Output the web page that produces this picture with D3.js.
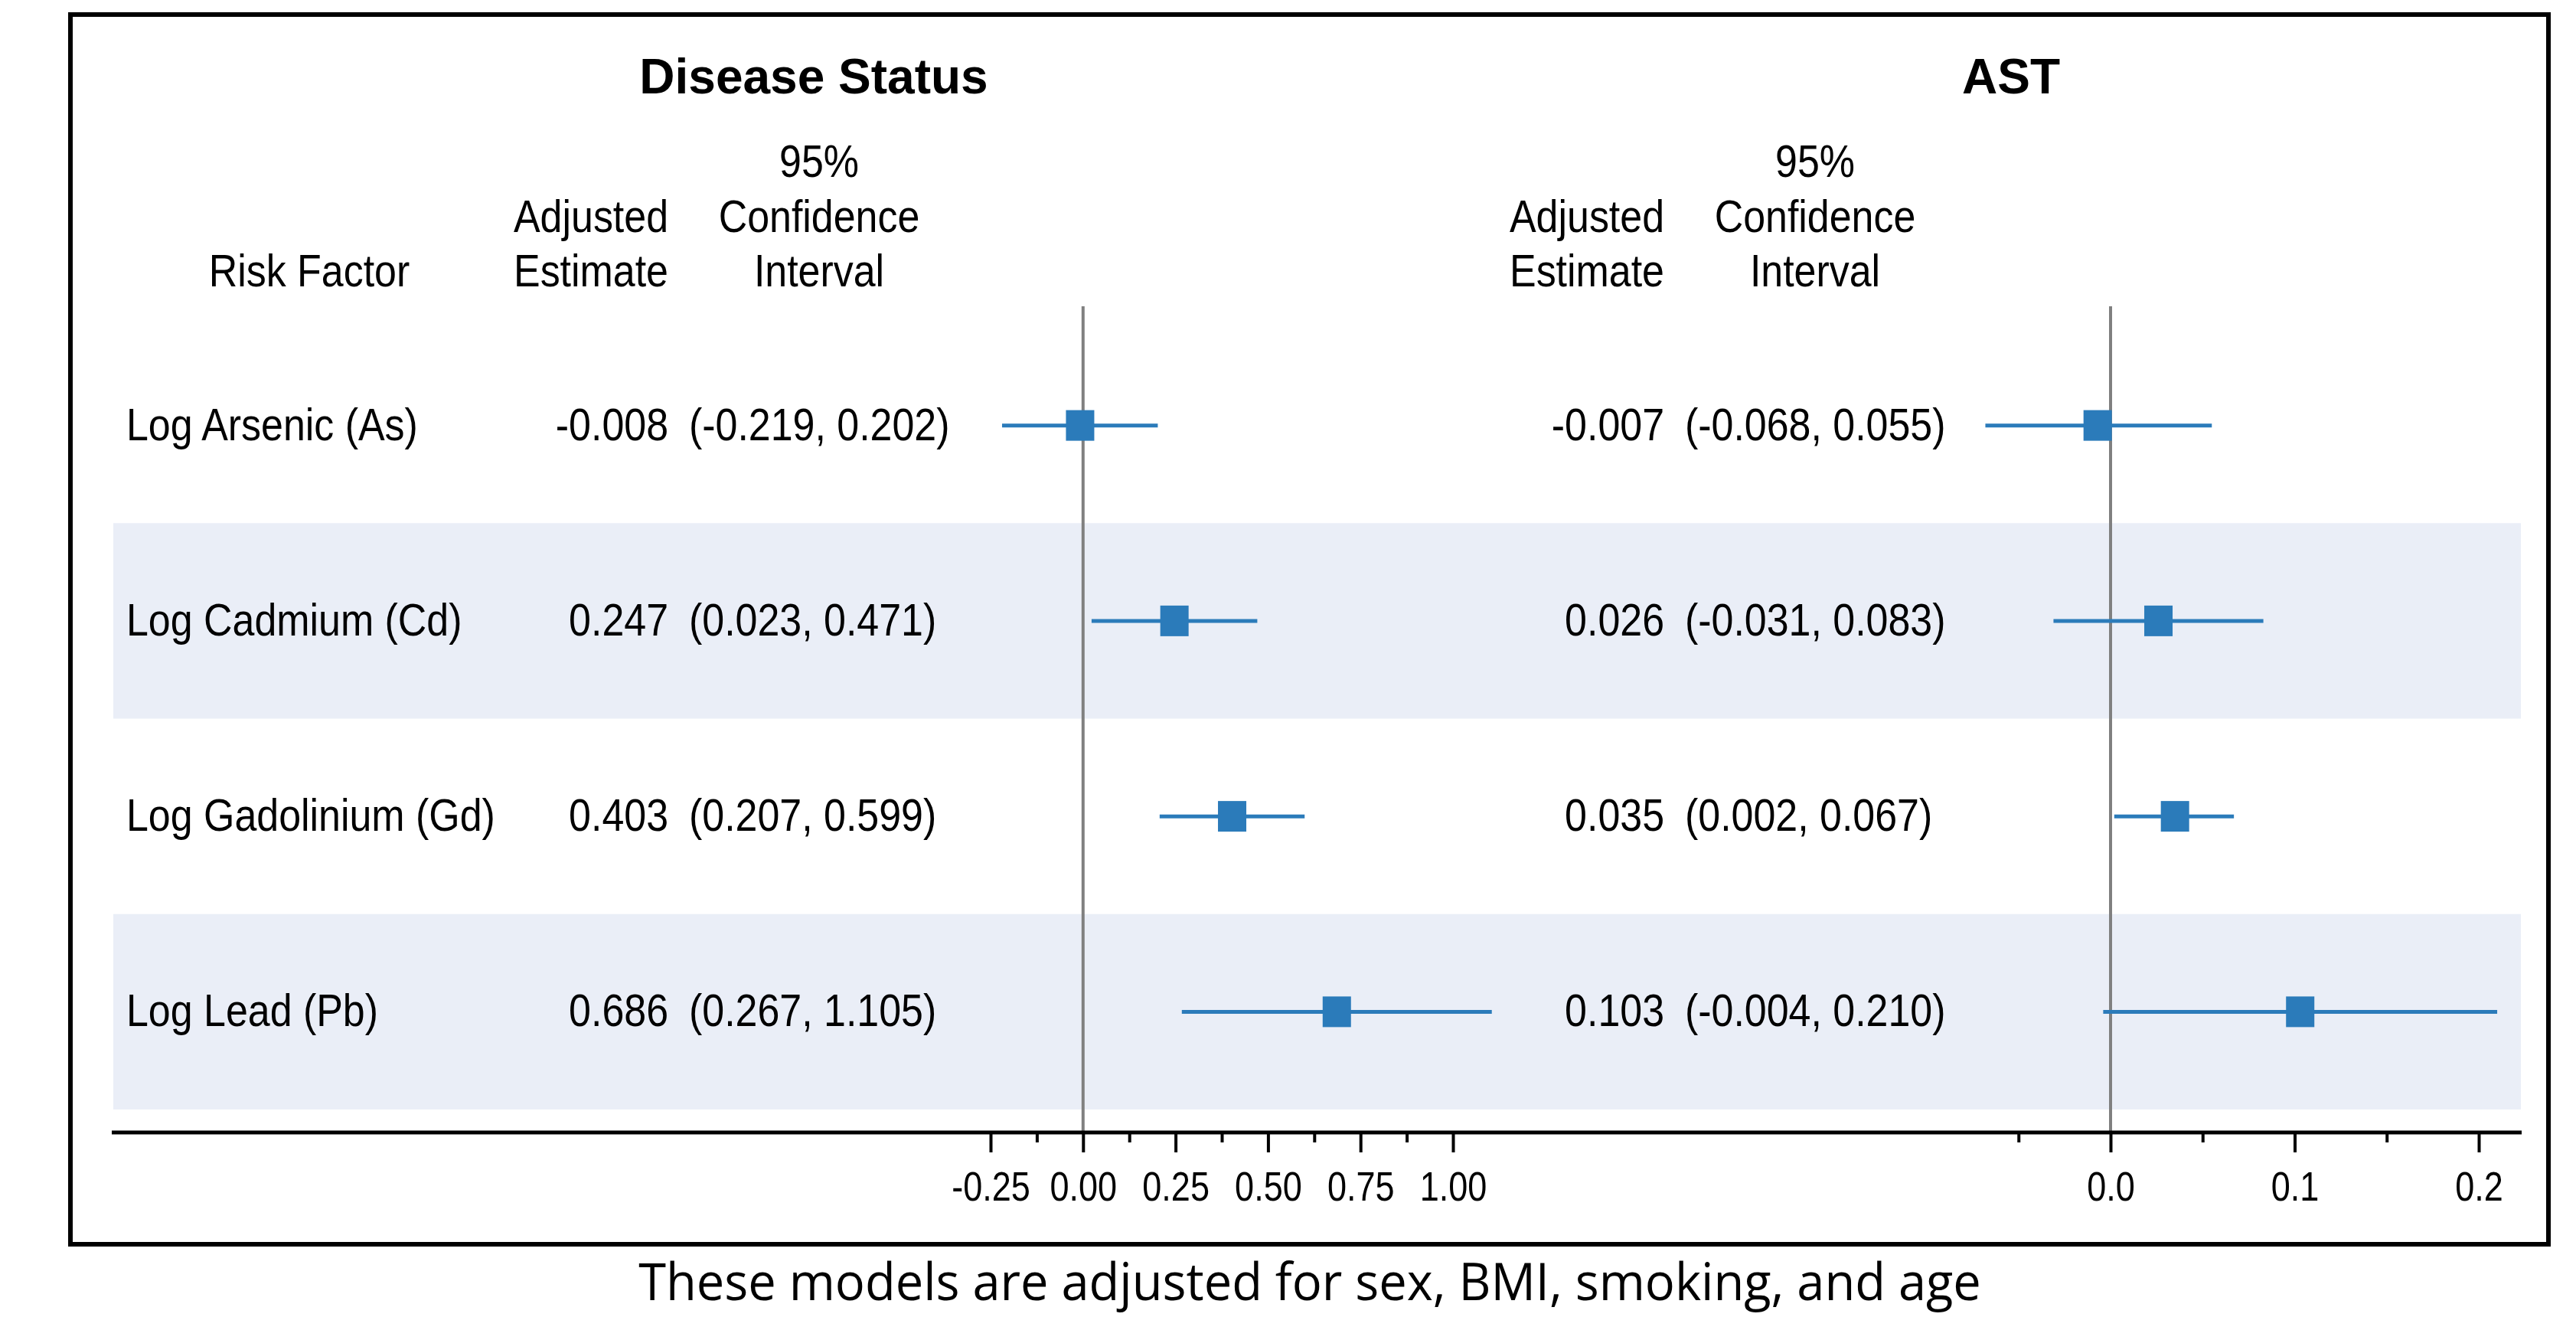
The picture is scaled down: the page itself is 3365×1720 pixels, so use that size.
<!DOCTYPE html>
<html>
<head>
<meta charset="utf-8">
<script src="https://cdn.jsdelivr.net/npm/d3@7"></script>
<style>
  body { margin: 0; background: #fff; }
  text { font-family: "Liberation Sans", Arial, sans-serif; fill: #000; }
</style>
</head>
<body>
<svg id="chart" width="3365" height="1720"></svg>
<script>
//data
var factors = ['Log Arsenic (As)', 'Log Cadmium (Cd)', 'Log Gadolinium (Gd)', 'Log Lead (Pb)'];

var dsEst = [-0.008, 0.247, 0.403, 0.686],
    dsLo = [-0.219, 0.023, 0.207, 0.267],
    dsHi = [0.202, 0.471, 0.599, 1.105];

var astEst = [-0.007, 0.026, 0.035, 0.103],
    astLo = [-0.068, -0.031, 0.002, -0.004],
    astHi = [0.055, 0.083, 0.067, 0.210];

var dsTicks = [-0.25, 0, 0.25, 0.5, 0.75, 1.0],
    dsMinor = [-0.125, 0.125, 0.375, 0.625, 0.875],
    astTicks = [0, 0.1, 0.2],
    astMinor = [-0.05, 0.05, 0.15];

var panelTitles = ['Disease Status', 'AST'];
var headerLines = [['', '95%'], ['Adjusted', 'Confidence'], ['Estimate', 'Interval']];
var caption = 'These models are adjusted for sex, BMI, smoking, and age';

//sizes / style
var blue = '#2b7bba',
    bandFill = '#eaeef7',
    refGray = '#808080',
    axisY = 1479,
    textSize = 59, textSx = 0.88,
    tickSize = 53, tickSx = 0.85;

var svg = d3.select('#chart');

//scales
var y = d3.scaleBand()
    .domain(factors)
    .range([428, 1449]);

var dsX = d3.scaleLinear().domain([-0.25, 1]).range([1294, 1898]);
var astX = d3.scaleLinear().domain([0, 0.2]).range([2757, 3238]);

//text helper, the original type is a bit condensed
function addText(g, x, yy, s, anchor, size, sx, weight) {
    return g.append('text')
        .attr('transform', 'translate(' + x + ',' + yy + ') scale(' + sx + ',1)')
        .attr('text-anchor', anchor)
        .style('font-size', size + 'px')
        .style('font-weight', weight || 'normal')
        .text(s);
}

//row bands
svg.append('g').selectAll('rect')
    .data(factors.filter(function(d, i) { return i % 2 == 1; }))
    .enter().append('rect')
    .attr('x', 148)
    .attr('width', 3293 - 148)
    .attr('y', function(d) { return y(d); })
    .attr('height', y.bandwidth())
    .attr('fill', bandFill);

//frame
svg.append('rect')
    .attr('x', 92).attr('y', 19)
    .attr('width', 3237).attr('height', 1606)
    .attr('fill', 'none')
    .attr('stroke', '#000')
    .attr('stroke-width', 6);

//panels
var panels = [
    { x: dsX, est: dsEst, lo: dsLo, hi: dsHi, ticks: dsTicks, minor: dsMinor, fmt: 2, off: 0, title: panelTitles[0], tx: 1063 },
    { x: astX, est: astEst, lo: astLo, hi: astHi, ticks: astTicks, minor: astMinor, fmt: 1, off: 1301, title: panelTitles[1], tx: 2627 }
];

var textG = svg.append('g');

addText(textG, 404, 374, 'Risk Factor', 'middle', textSize, textSx);

factors.forEach(function(f) {
    addText(textG, 165, y(f) + y.bandwidth() / 2 + 19, f, 'start', textSize, textSx);
});

panels.forEach(function(p) {
    var g = svg.append('g');

    addText(g, p.tx, 122, p.title, 'middle', 64, 1, 'bold');

    var hy = [231, 303, 374];
    headerLines.forEach(function(h, k) {
        if (h[0]) addText(g, 772 + p.off, hy[k], h[0], 'middle', textSize, textSx);
        addText(g, 1070 + p.off, hy[k], h[1], 'middle', textSize, textSx);
    });

    factors.forEach(function(f, i) {
        var cy = y(f) + y.bandwidth() / 2;
        addText(g, 873 + p.off, cy + 19, p.est[i].toFixed(3), 'end', textSize, textSx);
        addText(g, 900 + p.off, cy + 19, '(' + p.lo[i].toFixed(3) + ', ' + p.hi[i].toFixed(3) + ')', 'start', textSize, textSx);
    });

    //reference line at zero
    g.append('line')
        .attr('x1', p.x(0)).attr('x2', p.x(0))
        .attr('y1', 400).attr('y2', axisY)
        .attr('stroke', refGray)
        .attr('stroke-width', 4);

    //confidence intervals
    g.selectAll('.ci')
        .data(factors)
        .enter().append('line')
        .attr('class', 'ci')
        .attr('x1', function(d, i) { return p.x(p.lo[i]); })
        .attr('x2', function(d, i) { return p.x(p.hi[i]); })
        .attr('y1', function(d) { return y(d) + y.bandwidth() / 2; })
        .attr('y2', function(d) { return y(d) + y.bandwidth() / 2; })
        .attr('stroke', blue)
        .attr('stroke-width', 5);

    //estimates
    g.selectAll('.est')
        .data(factors)
        .enter().append('rect')
        .attr('class', 'est')
        .attr('x', function(d, i) { return p.x(p.est[i]) - 18.5; })
        .attr('y', function(d) { return y(d) + y.bandwidth() / 2 - 20; })
        .attr('width', 37)
        .attr('height', 40)
        .attr('fill', blue);

    //axis ticks
    var axis = d3.axisBottom(p.x)
        .tickValues(p.ticks)
        .tickSize(26)
        .tickFormat(function(d) { return d.toFixed(p.fmt); });

    var axisG = g.append('g')
        .attr('transform', 'translate(0,' + axisY + ')')
        .call(axis);
    axisG.select('.domain').remove();
    axisG.selectAll('.tick line').attr('stroke', '#000').attr('stroke-width', 4);
    axisG.selectAll('.tick text')
        .attr('y', null).attr('dy', null)
        .attr('transform', 'translate(0,89) scale(' + tickSx + ',1)')
        .style('font-size', tickSize + 'px')
        .style('font-family', '"Liberation Sans", Arial, sans-serif')
        .attr('fill', '#000');

    var minorG = g.append('g')
        .attr('transform', 'translate(0,' + axisY + ')')
        .call(d3.axisBottom(p.x).tickValues(p.minor).tickSize(13).tickFormat(''));
    minorG.select('.domain').remove();
    minorG.selectAll('.tick line').attr('stroke', '#000').attr('stroke-width', 4);
});

//axis line across both panels
svg.append('line')
    .attr('x1', 146).attr('x2', 3294)
    .attr('y1', axisY).attr('y2', axisY)
    .attr('stroke', '#000')
    .attr('stroke-width', 5);

//caption under the frame
var cap = svg.append('text')
    .attr('text-anchor', 'middle')
    .style('font-family', '"Open Sans", "Noto Sans", sans-serif')
    .style('font-size', '68px')
    .text(caption);
var capW = cap.node().getComputedTextLength();
cap.attr('transform', 'translate(1711,1698) scale(' + (1754 / capW) + ',1)');
</script>
</body>
</html>
